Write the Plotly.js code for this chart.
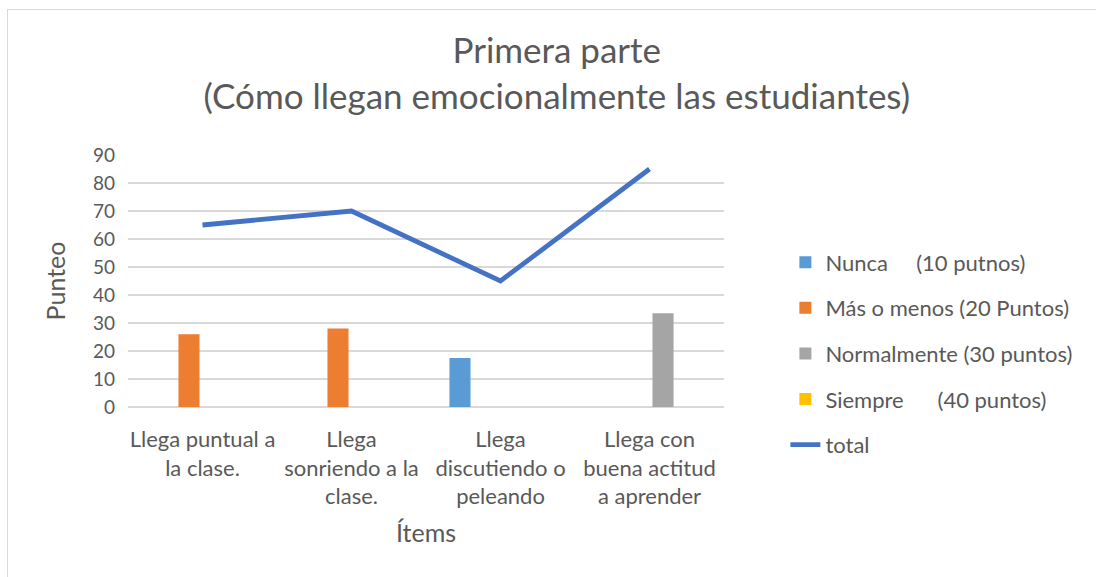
<!DOCTYPE html>
<html>
<head>
<meta charset="utf-8">
<script src="https://cdn.plot.ly/plotly-3.0.1.min.js"></script>
<style>
body{margin:0;padding:0;background:#fff;}
#wrap{position:relative;width:1096px;height:577px;overflow:hidden;}
#frame{position:absolute;left:7px;top:9px;width:1200px;height:700px;border:1px solid #D9D9D9;border-width:1.5px;pointer-events:none;}
#chart{position:absolute;left:0;top:0;width:1096px;height:577px;}
</style>
</head>
<body>
<div id="wrap"><div id="chart"></div><div id="frame"></div></div>
<script>
var categories = ["Llega puntual a<br>la clase.", "Llega<br>sonriendo a la<br>clase.", "Llega<br>discutiendo o<br>peleando", "Llega con<br>buena actitud<br>a aprender"];
var nunca = [0, 0, 17.5, 0];
var masOMenos = [26, 28, 0, 0];
var normalmente = [0, 0, 0, 33.5];
var siempre = [0, 0, 0, 0];
var total = [65, 70, 45, 85];
var seriesNames = ["Nunca&#160;&#160;&#160;&#160;&#160;(10 putnos)", "Más o menos (20 Puntos)", "Normalmente (30 puntos)", "Siempre&#160;&#160;&#160;&#160;&#160;&#160;(40 puntos)", "total"];

var font = "Lato, 'Open Sans', sans-serif";
var grey = "#595959";

var traces = [
  {type:"bar", x:categories, y:nunca, name:seriesNames[0], marker:{color:"#5B9BD5"}, legendgroup:"a"},
  {type:"bar", x:categories, y:masOMenos, name:seriesNames[1], marker:{color:"#ED7D31"}, legendgroup:"b"},
  {type:"bar", x:categories, y:normalmente, name:seriesNames[2], marker:{color:"#A5A5A5"}, legendgroup:"c"},
  {type:"bar", x:categories, y:siempre, name:seriesNames[3], marker:{color:"#FFC000"}, legendgroup:"d"},
  {type:"scatter", mode:"lines", x:categories, y:total, name:seriesNames[4], line:{color:"#4472C4", width:4.8}, legendgroup:"e"}
];

var layout = {
  width:1096, height:577,
  margin:{l:128, r:372, t:155, b:170},
  paper_bgcolor:"rgba(0,0,0,0)", plot_bgcolor:"#fff",
  font:{family:font, color:grey, size:20},
  title:{text:"Primera parte<br>(Cómo llegan emocionalmente las estudiantes)", font:{family:font, size:35, color:grey}, x:0.508, xanchor:"center", y:0.89, yanchor:"top"},
  barmode:"group", bargap:0.275, bargroupgap:0.22,
  xaxis:{type:"category", showgrid:false, zeroline:false, showline:false, ticks:"", tickfont:{size:22, color:grey}, ticklabelstandoff:17,
         title:{text:"Ítems", font:{size:25, color:grey}, standoff:16}},
  yaxis:{range:[0,90], dtick:10, showgrid:true, gridcolor:"#D9D9D9", gridwidth:1.3, zeroline:true, zerolinecolor:"#D9D9D9", zerolinewidth:1.3,
         showline:false, ticks:"", tickfont:{size:19, color:grey}, ticklabelstandoff:12,
         title:{text:"Punteo", font:{size:25, color:grey}, standoff:20}},
  showlegend:true,
  legend:{x:1.103, xanchor:"left", y:0.657, yanchor:"top", traceorder:"grouped", tracegroupgap:14, font:{size:22, color:grey}, bgcolor:"rgba(0,0,0,0)"}
};

Plotly.newPlot("chart", traces, layout, {displayModeBar:false, staticPlot:true});
</script>
</body>
</html>
